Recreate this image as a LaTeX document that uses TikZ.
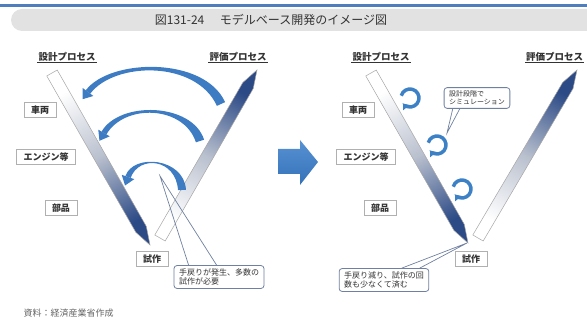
\documentclass[tikz,border=0pt]{standalone}
\usepackage{fontspec}
\newfontfamily\jp{Noto Sans CJK JP}
\usetikzlibrary{arrows.meta,calc}
\definecolor{barblue}{HTML}{2C4A86}
\definecolor{barmid}{HTML}{B9C0CE}
\definecolor{arcblue}{HTML}{3D7CC2}
\definecolor{hookblue}{HTML}{3C80C6}
\definecolor{lblgray}{HTML}{333333}
\definecolor{boxline}{HTML}{B0B0B0}
\definecolor{callline}{HTML}{6F80A0}
\definecolor{headgray}{HTML}{E2E2E2}
\definecolor{headblue}{HTML}{4F7EBF}
\definecolor{arrowblue}{HTML}{3A7ECC}
\tikzset{
  lbl/.style={draw=boxline, fill=white, line width=0.6pt, font=\jp\bfseries\fontsize{9}{10}\selectfont, text=lblgray, inner xsep=7pt, inner ysep=3pt},
  proc/.style={font=\jp\bfseries\fontsize{9.5}{11}\selectfont, text=lblgray, inner sep=1pt},
  callbox/.style={draw=callline, fill=white, rounded corners=3pt, line width=0.8pt, font=\jp\fontsize{8}{9.5}\selectfont, text=lblgray, align=left, inner xsep=5pt, inner ysep=3pt},
  smallcall/.style={callbox, font=\jp\fontsize{7}{8.5}\selectfont},
  wedge/.style={draw=callline, line width=0.7pt},
  arctip/.style={draw=arcblue, line width=1pt, -{Triangle[width=13pt,length=9pt,fill=arcblue]}},
  hook/.style={draw=hookblue, line width=3.5pt, -{Triangle[width=8pt,length=5pt]}},
  barout/.style={draw=gray!70, line width=0.5pt},
}
\newcommand\drawbar[5]{%
  \coordinate (bS) at #1; \coordinate (bT) at #2;
  \coordinate (bB) at ($(bT)!18pt!(bS)$);
  \path[barout, top color=#4, bottom color=#5, middle color=barmid, shading angle=#3]
    ($(bS)!6pt!90:(bT)$) -- ($(bS)!6pt!-90:(bT)$) -- ($(bB)!6pt!90:(bS)$) -- (bT) -- ($(bB)!6pt!-90:(bS)$) -- cycle;
}
% tapered arc: #1 start, #2 c1, #3 c2, #4 end (arrow base), #5 half width at start
\newcommand\taperarc[5]{%
  \coordinate (tS) at #1; \coordinate (tA) at #2; \coordinate (tB) at #3; \coordinate (tE) at #4;
  \coordinate (tSo) at ($(tS)!#5!-90:(tA)$); \coordinate (tSi) at ($(tS)!#5!90:(tA)$);
  \coordinate (tEo) at ($(tE)!2.8pt!90:(tB)$); \coordinate (tEi) at ($(tE)!2.8pt!-90:(tB)$);
  \fill[arcblue] (tSo) .. controls ($(tA)+(tSo)-(tS)$) and ($(tB)+(tEo)-(tE)$) .. (tEo)
     -- (tEi) .. controls ($(tB)+(tEi)-(tE)$) and ($(tA)+(tSi)-(tS)$) .. (tSi) -- cycle;
  \draw[arctip] ($(tE)!1pt!(tB)$) -- ($(tE)!-9pt!(tB)$);
}
\begin{document}
\begin{tikzpicture}[x=1pt,y=1pt]
\useasboundingbox (0,0) rectangle (587,-320);
\clip (0,0) rectangle (587,-320);
% header
\fill[headblue] (0,-4.5) rectangle (587,-7);
\fill[headgray] (587,-9) -- (22,-9) arc[start angle=90,end angle=270,radius=11] -- (587,-31) -- cycle;
\node[font=\jp\fontsize{12}{14}\selectfont, text=lblgray] (title) at (271,-20) {図131-24\hspace{1.3em}モデルベース開発のイメージ図};
% ---------- left diagram ----------
\drawbar{(52,-73)}{(150,-245)}{30}{white}{barblue}
\drawbar{(160,-238)}{(257,-70)}{-30}{barblue}{white}
\taperarc{(221,-104)}{(200,-58)}{(112,-60)}{(88,-92)}{4.5pt}
\taperarc{(200,-141)}{(188,-104)}{(122,-102)}{(104,-133)}{4.3pt}
\taperarc{(182,-190)}{(180,-158)}{(136,-154)}{(128,-177)}{4pt}
\node[proc] (d1) at (67,-57) {設計プロセス};
\draw[lblgray, line width=0.6pt] (d1.south west) -- (d1.south east);
\node[proc] (e1) at (238,-57) {評価プロセス};
\draw[lblgray, line width=0.6pt] (e1.south west) -- (e1.south east);
\node[lbl] (car1) at (40,-110) {車両};
\node[lbl] (eng1) at (46,-157) {エンジン等};
\node[lbl] (part1) at (61,-208) {部品};
\node[lbl] (proto1) at (152,-259) {試作};
\node[callbox] (c1) at (219,-277) {手戻りが発生、多数の\\試作が必要};
\coordinate (ap1) at (160,-176);
\draw[wedge] ($(c1.north west)+(15,0)$) -- (ap1) -- ($(c1.north west)+(43,0)$);
% big arrow
\path[top color=arrowblue!85!white, bottom color=arrowblue!90!black, draw=none]
  (278,-149) -- (300,-149) -- (300,-140) -- (318,-162) -- (300,-185) -- (300,-174) -- (278,-174) -- cycle;
% ---------- right diagram ----------
\drawbar{(371,-73)}{(468,-243)}{30}{white}{barblue}
\drawbar{(478,-238)}{(577,-70)}{-30}{barblue}{white}
\node[proc] (d2) at (381,-57) {設計プロセス};
\draw[lblgray, line width=0.6pt] (d2.south west) -- (d2.south east);
\node[proc,anchor=west] (e2) at (525,-57) {評価プロセス};
\draw[lblgray, line width=0.6pt] (e2.south west) -- (e2.south east);
\node[lbl] (car2) at (358,-110) {車両};
\node[lbl] (eng2) at (366,-157) {エンジン等};
\node[lbl] (part2) at (380,-208) {部品};
\node[lbl] (proto2) at (471,-259) {試作};
\coordinate (h1) at (410,-98);
\coordinate (h2) at (437,-145);
\coordinate (h3) at (462,-189);
\foreach \h in {h1,h2,h3}
  \draw[hook] ($(\h)+(165:9)$) arc[start angle=165,end angle=-140,radius=9];
\node[smallcall] (c2) at (477,-98) {設計段階で\\シミュレーション};
\coordinate (ap2) at (447,-133);
\draw[wedge] ($(c2.south west)+(9,0)$) -- (ap2) -- ($(c2.south west)+(16,0)$);
\node[callbox] (c3) at (384,-280) {手戻り減り、試作の回\\数も少なくて済む};
\coordinate (ap3) at (467,-243);
\draw[wedge] ($(c3.north west)+(63,0)$) -- (ap3) -- ($(c3.north west)+(81,0)$);
% footer
\node[font=\jp\fontsize{9}{10}\selectfont, text=black!60, anchor=west] (foot) at (20,-313) {資料：経済産業省作成};
\end{tikzpicture}
\end{document}
